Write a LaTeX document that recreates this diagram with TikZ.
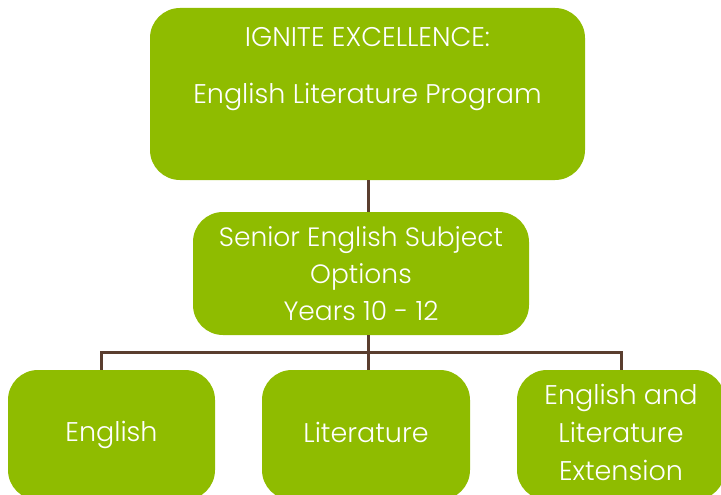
\documentclass[tikz,border=0pt]{standalone}
\usepackage{fontspec}
\setmainfont{Poppins Light}
\usetikzlibrary{positioning, calc}
\definecolor{Leaf}{HTML}{8FBC00}
\definecolor{Bark}{HTML}{5A3E2F}
\tikzset{
    leafbox/.style={rectangle, rounded corners=30pt, fill=Leaf, text=white, align=center, inner sep=0pt},
    subject/.style={leafbox, minimum width=208pt, minimum height=130pt, font=\fontsize{27}{38}\selectfont},
    branch/.style={draw=Bark, line width=3pt},
}
\begin{document}
\begin{tikzpicture}[x=1pt, y=-1pt]
    \useasboundingbox (0,0) rectangle (721,495);
    % Titolo
    \node[leafbox, minimum width=435pt, minimum height=172pt, font=\fontsize{27}{57}\selectfont] (title) at (367.5,94)
        {IGNITE EXCELLENCE:\\English Literature Program\\\mbox{}};
    % Opzioni
    \node[leafbox, minimum width=336pt, minimum height=123pt, font=\fontsize{26.5}{37}\selectfont] (options) at (361,273.5)
        {Senior English Subject\\Options\\Years 10 - 12};
    % Materie
    \node[subject, minimum width=207pt] (english) at (111.5,435) {English};
    \node[subject, text depth=6pt] (literature) at (366,435) {Literature};
    \node[subject, text depth=6pt] (extension) at (621,435) {English and\\Literature\\Extension};
    % Collegamenti
    \coordinate (bus) at (368,352);
    \draw[branch] (title.south -| bus) -- (options.north -| bus);
    \draw[branch] (options.south -| bus) -- (bus);
    \draw[branch] (bus) -| ([xshift=-10.5pt]english.north);
    \draw[branch] (bus) -| (extension.north);
    \draw[branch] (bus) -- (literature.north -| bus);
\end{tikzpicture}
\end{document}
